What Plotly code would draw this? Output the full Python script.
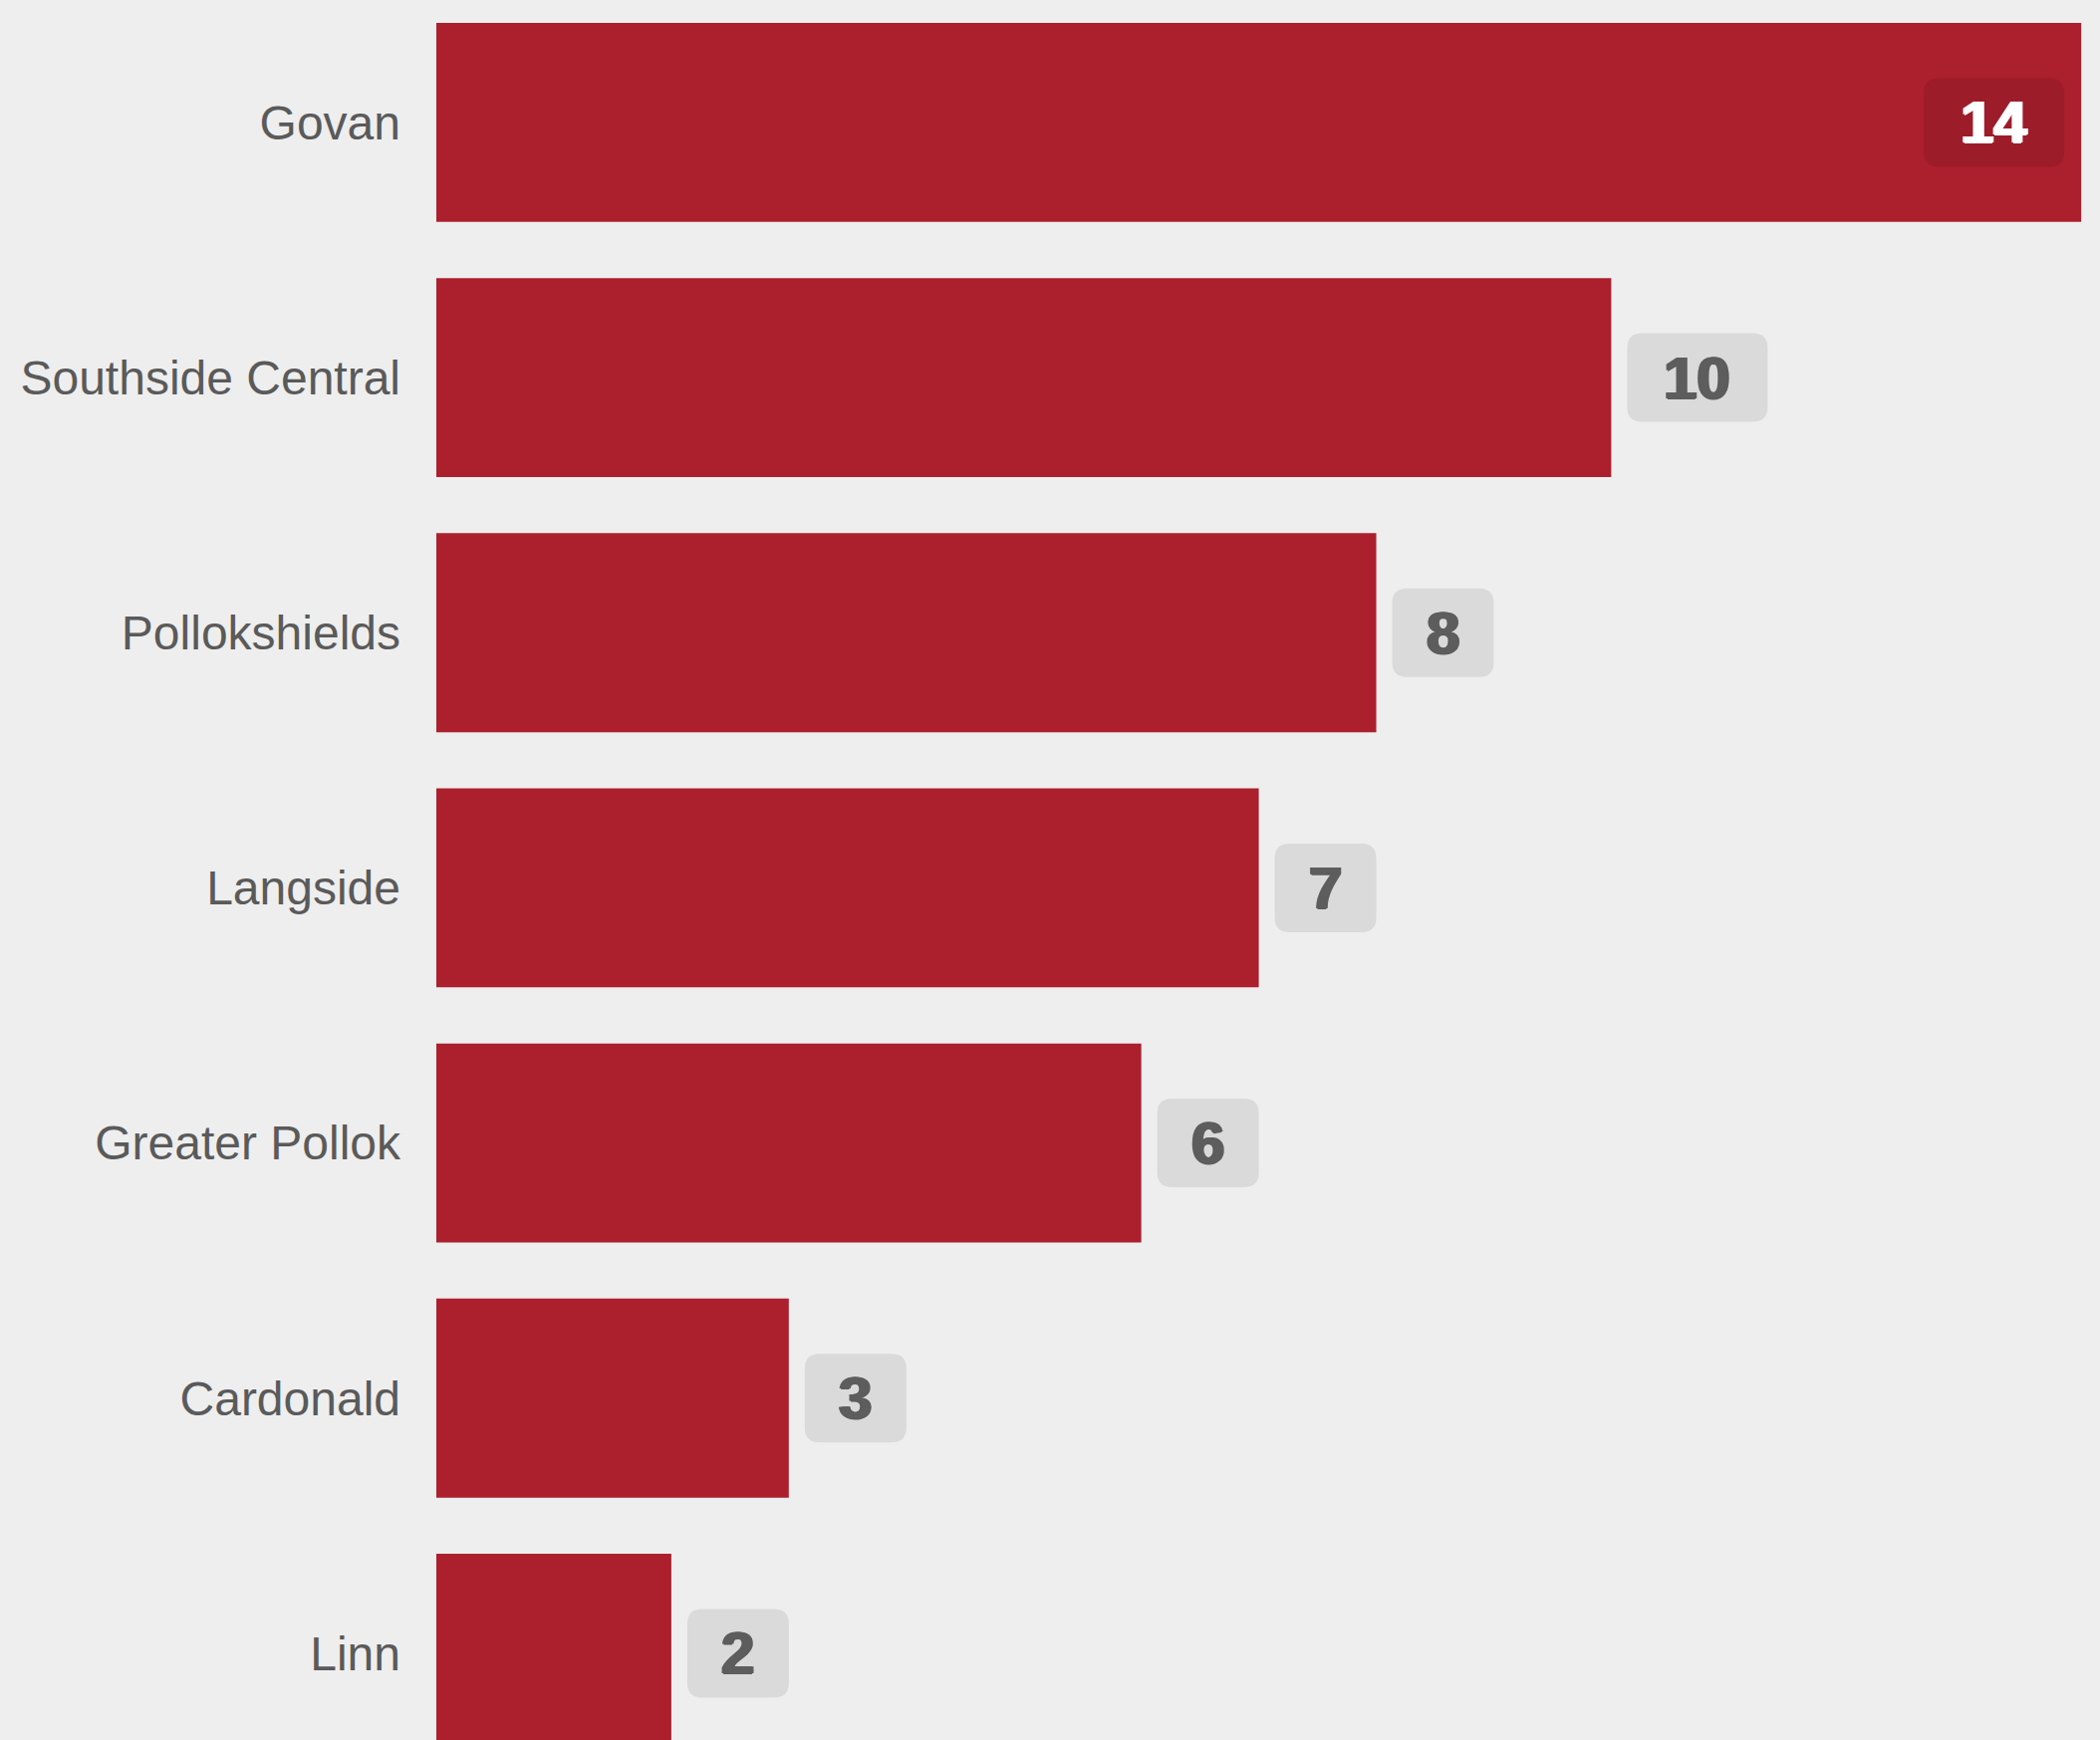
import plotly.graph_objects as go

areas = ["Govan", "Southside Central", "Pollokshields", "Langside",
         "Greater Pollok", "Cardonald", "Linn"]
counts = [14, 10, 8, 7, 6, 3, 2]

BAR = "#AC1F2D"
BG = "#EEEEEE"
FONT = "Liberation Sans, Arial, sans-serif"


def badge_path(left, width, height=89, r=15):
    # rounded rectangle in pixels, relative to the anchor point
    right = left + width
    top, bot = height / 2, -height / 2
    return (f"M{left + r},{bot} L{right - r},{bot} Q{right},{bot} {right},{bot + r} "
            f"L{right},{top - r} Q{right},{top} {right - r},{top} "
            f"L{left + r},{top} Q{left},{top} {left},{top - r} "
            f"L{left},{bot + r} Q{left},{bot} {left + r},{bot} Z")


fig = go.Figure()

fig.add_trace(go.Bar(
    x=counts,
    y=areas,
    orientation="h",
    width=0.78,
    marker=dict(color=BAR, line=dict(width=0)),
    hoverinfo="skip",
))

top_val = max(counts)
for name, val in zip(areas, counts):
    w = 102 if val < 10 else 141
    inside = val == top_val
    if inside:
        left = -17 - w
        fill, txt = "#9D1C29", "white"
    else:
        left = 16
        fill, txt = "#DADADA", "#5D5D5D"
    fig.add_shape(
        type="path", xref="x", yref="y",
        xsizemode="pixel", ysizemode="pixel",
        xanchor=val, yanchor=name,
        path=badge_path(left, w),
        fillcolor=fill, line=dict(width=0), layer="above",
    )
    fig.add_annotation(
        x=val, y=name, text=f"<b>{val}</b>", showarrow=False,
        xanchor="center", yanchor="middle", xshift=left + w / 2,
        font=dict(family=FONT, size=60, color=txt,
                  shadow=f"1.5px 0 0 {txt}, -1.5px 0 0 {txt}, 0 1px 0 {txt}"),
    )

fig.update_layout(
    width=2108,
    height=1747,
    margin=dict(l=438, r=0, t=0, b=0),
    paper_bgcolor=BG,
    plot_bgcolor=BG,
    showlegend=False,
    font=dict(family=FONT, color="#5A5A5A"),
)
fig.update_xaxes(range=[0, 14.16], visible=False, fixedrange=True)
fig.update_yaxes(
    range=[6.34, -0.48],
    showgrid=False, zeroline=False, showline=False,
    ticks="", ticklabelstandoff=35, fixedrange=True,
    tickfont=dict(family=FONT, size=48, color="#5A5A5A"),
)

# page has a default 8px body margin; drop it so the chart fills the window
fig.write_html(
    "out.html",
    config={"displayModeBar": False, "staticPlot": True},
    post_script="document.body.style.margin='0';"
                "document.body.style.background='#EEEEEE';"
                "document.body.style.overflow='hidden';",
)
